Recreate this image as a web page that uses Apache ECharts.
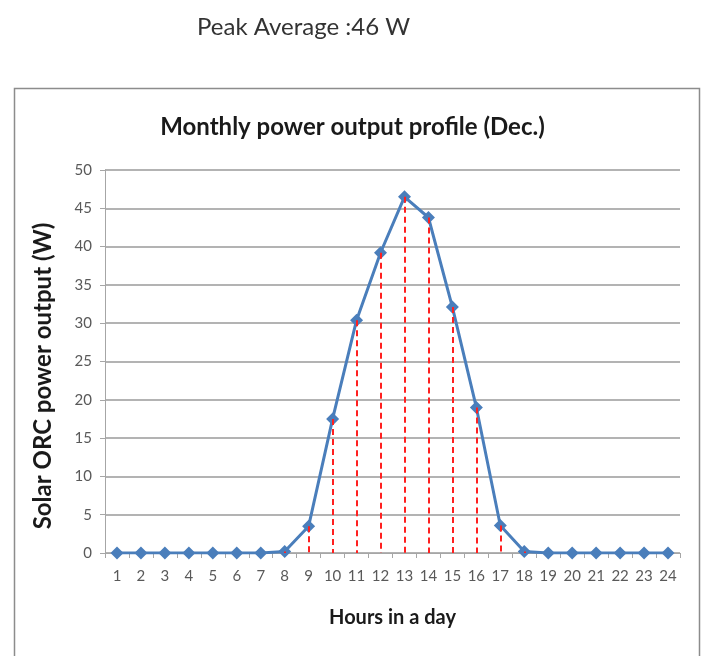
<!DOCTYPE html>
<html>
<head>
<meta charset="utf-8">
<script src="https://cdn.jsdelivr.net/npm/echarts@6/dist/echarts.min.js"></script>
<style>
  html, body { margin: 0; padding: 0; background: #fff; }
  #chart { width: 705px; height: 656px; }
</style>
</head>
<body>
<div id="chart"></div>
<script>
// hours of the day and average December output (W)
const hours = ['1','2','3','4','5','6','7','8','9','10','11','12','13','14','15','16','17','18','19','20','21','22','23','24']
const power = [0, 0, 0, 0, 0, 0, 0, 0.2, 3.5, 17.5, 30.4, 39.2, 46.5, 43.8, 32.1, 19.0, 3.6, 0.2, 0, 0, 0, 0, 0, 0]
const yTicks = { min: 0, max: 50, interval: 5 }

const chart = echarts.init(document.getElementById('chart'))

// red dashed drop lines from each point down to zero
const dropLines = power
  .map((v, i) => [{ coord: [i, v] }, { coord: [i, 0] }])
  .filter(pair => pair[0].coord[1] > 0)

const font = 'Lato, "Open Sans", sans-serif'

const option = {
  backgroundColor: '#fff',
  animation: false,
  graphic: [
    {
      type: 'rect',
      shape: { x: 14.5, y: 88.5, width: 685, height: 600 },
      style: { fill: '#fff', stroke: '#8c8c8c', lineWidth: 1.5 },
      z: -10
    },
    {
      type: 'text',
      left: 197,
      top: 15,
      style: { text: 'Peak Average :46 W', font: '24px ' + font, fill: '#333' }
    },
    // y axis title sits a bit below the plot centre in the original
    {
      type: 'text',
      x: 43,
      y: 376,
      rotation: Math.PI / 2,
      style: {
        text: 'Solar ORC power output (W)',
        font: 'bold 24px ' + font,
        fill: '#1a1a1a',
        align: 'center',
        verticalAlign: 'middle'
      }
    }
  ],
  title: {
    text: 'Monthly power output profile (Dec.)',
    left: 'center',
    top: 110,
    textStyle: { fontFamily: font, fontSize: 24, fontWeight: 'bold', color: '#1a1a1a' }
  },
  grid: {
    left: 105,
    right: 25,
    top: 170,
    bottom: 103
  },
  xAxis: {
    type: 'category',
    data: hours,
    boundaryGap: true,
    name: 'Hours in a day',
    nameLocation: 'middle',
    nameGap: 55,
    nameTextStyle: { fontFamily: font, fontSize: 20, fontWeight: 'bold', color: '#1a1a1a' },
    axisLine: { lineStyle: { color: '#a6a6a6', width: 1 } },
    axisTick: { show: true, length: 5, lineStyle: { color: '#a6a6a6' } },
    axisLabel: { fontFamily: font, fontSize: 15, color: '#595959', margin: 16 }
  },
  yAxis: {
    type: 'value',
    min: yTicks.min,
    max: yTicks.max,
    interval: yTicks.interval,
    axisLine: { show: true, lineStyle: { color: '#a6a6a6', width: 1 } },
    axisTick: { show: true, length: 5, lineStyle: { color: '#a6a6a6' } },
    axisLabel: { fontFamily: font, fontSize: 15, color: '#595959', margin: 13 },
    splitLine: { lineStyle: { color: '#b3b3b3', width: 2 } }
  },
  series: [
    {
      type: 'line',
      data: power,
      symbol: 'diamond',
      symbolSize: 13,
      lineStyle: { color: '#4a7ebb', width: 3 },
      itemStyle: { color: '#4a7ebb' },
      z: 3,
      markLine: {
        silent: true,
        symbol: 'none',
        label: { show: false },
        lineStyle: { color: '#ff2020', width: 2, type: [6, 4] },
        data: dropLines,
        z: 4
      }
    }
  ]
}

chart.setOption(option)
</script>
</body>
</html>
